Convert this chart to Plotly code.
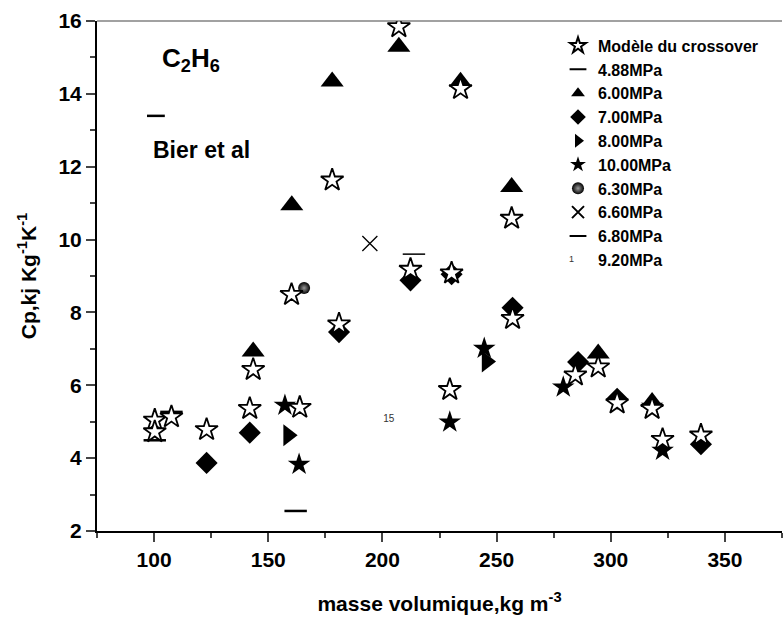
import plotly.graph_objects as go

# ---- data ----
model_x = [100.3, 100.3, 107.6, 123.0, 141.9, 143.4, 160.2, 163.8, 181.0, 207.2, 178.0, 234.2,
           256.6, 212.3, 230.3, 257.0, 229.5, 284.5, 294.5, 302.8, 318.1, 322.7, 339.5]
model_y = [5.04, 4.72, 5.13, 4.78, 5.36, 6.43, 8.49, 5.39, 7.68, 15.84, 11.63, 14.14,
           10.58, 9.18, 9.08, 7.83, 5.88, 6.28, 6.50, 5.51, 5.36, 4.51, 4.63]

p488_x = [100.3, 107.6, 162.0]
p488_y = [4.49, 5.27, 2.55]

p600_x = [143.4, 160.3, 178.0, 207.2, 234.2, 256.6, 294.5, 318.1]
p600_y = [6.93, 10.94, 14.34, 15.29, 14.33, 11.44, 6.87, 5.54]

p700_x = [123.0, 141.9, 181.0, 212.3, 230.3, 257.0, 285.7, 302.8, 339.5]
p700_y = [3.87, 4.70, 7.46, 8.88, 9.05, 8.13, 6.64, 5.63, 4.38]

p800_x = [158.7, 245.6]
p800_y = [4.63, 6.65]

p1000_x = [157.3, 163.5, 244.6, 229.5, 279.2, 318.1, 322.7]
p1000_y = [5.45, 3.83, 7.01, 4.99, 5.95, 5.42, 4.21]

p630_x = [165.7]
p630_y = [8.67]

p660_x = [194.5]
p660_y = [9.89]

p680_x = [213.8]
p680_y = [9.60]

p920_x = [202.8]
p920_y = [5.07]
p920_lbl = ["15"]

x_ticks = [100, 150, 200, 250, 300, 350]
y_ticks = [2, 4, 6, 8, 10, 12, 14, 16]

FONT = "Liberation Sans, Arial, sans-serif"

fig = go.Figure()

fig.add_trace(go.Scatter(x=p488_x, y=p488_y, mode="markers", name="4.88MPa", legendrank=2,
                         marker=dict(symbol="line-ew-open", size=16, color="black",
                                     line=dict(width=2.5, color="black"))))
fig.add_trace(go.Scatter(x=p600_x, y=p600_y, mode="markers", name="6.00MPa", legendrank=3,
                         marker=dict(symbol="triangle-up", size=20, color="black")))
fig.add_trace(go.Scatter(x=p700_x, y=p700_y, mode="markers", name="7.00MPa", legendrank=4,
                         marker=dict(symbol="diamond", size=17, color="black")))
fig.add_trace(go.Scatter(x=p800_x, y=p800_y, mode="markers", name="8.00MPa", legendrank=5,
                         marker=dict(symbol="triangle-right", size=19, color="black")))
fig.add_trace(go.Scatter(x=p1000_x, y=p1000_y, mode="markers", name="10.00MPa", legendrank=6,
                         marker=dict(symbol="star", size=17, color="black")))
fig.add_trace(go.Scatter(x=p630_x, y=p630_y, mode="markers", name="6.30MPa", legendrank=7,
                         marker=dict(symbol="circle", size=12, color="black",
                                     gradient=dict(type="radial", color="#999999"))))
fig.add_trace(go.Scatter(x=p660_x, y=p660_y, mode="markers", name="6.60MPa", legendrank=8,
                         marker=dict(symbol="x-thin-open", size=15, color="black",
                                     line=dict(width=1.3, color="black"))))
fig.add_trace(go.Scatter(x=p680_x, y=p680_y, mode="markers", name="6.80MPa", legendrank=9,
                         marker=dict(symbol="line-ew-open", size=16, color="black",
                                     line=dict(width=1.5, color="black"))))
fig.add_trace(go.Scatter(x=p920_x, y=p920_y, mode="text", text=p920_lbl, showlegend=False,
                         textfont=dict(family=FONT, size=10, color="#333333")))
fig.add_trace(go.Scatter(x=[None], y=[None], mode="markers", name="9.20MPa", legendrank=10,
                         marker=dict(size=8, color="rgba(0,0,0,0)")))
fig.add_trace(go.Scatter(x=model_x, y=model_y, mode="markers", name="Modèle du crossover", legendrank=1,
                         marker=dict(symbol="star", size=17, color="white",
                                     line=dict(width=1.8, color="black"))))

fig.update_layout(
    width=783, height=621,
    margin=dict(l=97, r=1, t=21, b=90),
    paper_bgcolor="white", plot_bgcolor="white",
    font=dict(family=FONT, color="black"),
    showlegend=True,
    legend=dict(x=0.673, y=0.985, xanchor="left", yanchor="top", bgcolor="rgba(0,0,0,0)",
                font=dict(family=FONT, size=16, weight="bold", color="black"),
                itemsizing="constant"),
    xaxis=dict(range=[75, 375], tickvals=x_ticks, ticks="outside", ticklen=9, tickwidth=2,
               showline=True, linewidth=2, linecolor="black", showgrid=False, zeroline=False,
               tickfont=dict(family=FONT, size=21, weight="bold"),
               minor=dict(dtick=25, tick0=75, ticks="outside", ticklen=5, tickwidth=2, showgrid=False),
               title=dict(text="masse volumique,kg m<sup>-3</sup>", standoff=26,
                          font=dict(family=FONT, size=21, weight="bold"))),
    yaxis=dict(range=[2, 16], tickvals=y_ticks, ticks="outside", ticklen=9, tickwidth=2,
               showline=True, linewidth=2, linecolor="black", showgrid=False, zeroline=False,
               tickfont=dict(family=FONT, size=21, weight="bold"),
               minor=dict(dtick=1, tick0=2, ticks="outside", ticklen=5, tickwidth=2, showgrid=False),
               title=dict(text="Cp,kj Kg<sup>-1</sup>K<sup>-1</sup>", standoff=16,
                          font=dict(family=FONT, size=21, weight="bold"))),
)

# thin top frame line
fig.add_shape(type="line", xref="paper", yref="paper", x0=0, x1=1, y0=1, y1=1,
              line=dict(color="#444444", width=1.2))
# Bier et al dash
fig.add_shape(type="line", xref="paper", yref="paper", x0=0.073, x1=0.099, y0=0.814, y1=0.814,
              line=dict(color="black", width=2.5))

fig.add_annotation(text="C<sub>2</sub>H<sub>6</sub>", xref="paper", yref="paper", x=0.137, y=0.924,
                   xanchor="center", yanchor="middle",
                   showarrow=False, font=dict(family=FONT, size=26, weight="bold", color="black"))
fig.add_annotation(text="Bier et al", xref="paper", yref="paper", x=0.153, y=0.747,
                   xanchor="center", yanchor="middle",
                   showarrow=False, font=dict(family=FONT, size=23, weight="bold", color="black"))
# legend glyph for the 9.20MPa (numbered) series
fig.add_annotation(text="1", xref="paper", yref="paper", x=(571 - 97) / 685, y=(531 - 259) / 510,
                   xanchor="center", yanchor="middle",
                   showarrow=False, font=dict(family=FONT, size=9, color="#333333"))

fig.write_html("out.html")
